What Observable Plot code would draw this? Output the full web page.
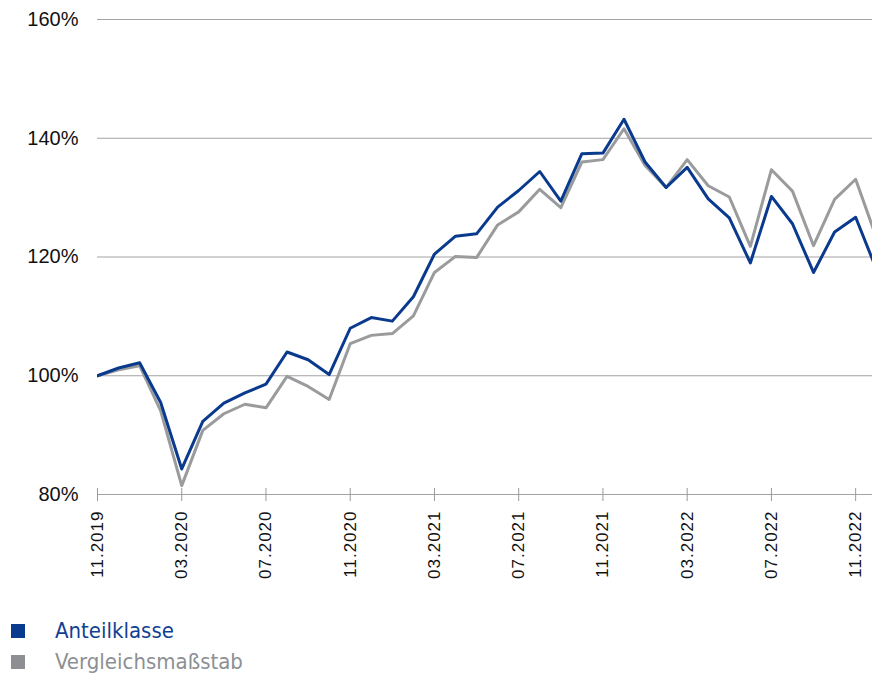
<!DOCTYPE html>
<html>
<head>
<meta charset="utf-8">
<script src="https://cdn.jsdelivr.net/npm/d3@7"></script>
<script src="https://cdn.jsdelivr.net/npm/@observablehq/plot@0.6"></script>
<style>
  html, body { margin: 0; padding: 0; background: #fff; }
  #chart svg { display: block; }
  g[aria-label="x-axis tick label"] text { letter-spacing: 1px; }
  .legend { padding-top: 15px; font-family: "Liberation Sans Narrow", "DejaVu Sans Condensed", "Liberation Sans", sans-serif; font-size: 22px; letter-spacing: 0; }
  .legend .row { display: flex; align-items: center; height: 31px; padding-left: 11px; }
  .legend .sw { width: 14px; height: 14px; margin-right: 30px; }
</style>
</head>
<body>
<div id="chart"></div>
<div class="legend" id="legend"></div>
<script>
const months = ["11.2019","12.2019","01.2020","02.2020","03.2020","04.2020","05.2020","06.2020","07.2020","08.2020","09.2020","10.2020",
  "11.2020","12.2020","01.2021","02.2021","03.2021","04.2021","05.2021","06.2021","07.2021","08.2021","09.2021","10.2021",
  "11.2021","12.2021","01.2022","02.2022","03.2022","04.2022","05.2022","06.2022","07.2022","08.2022","09.2022","10.2022",
  "11.2022","12.2022"];
const anteilklasse = [100.0,101.3,102.2,95.5,84.3,92.3,95.4,97.1,98.6,104.0,102.7,100.2,
  108.0,109.8,109.2,113.3,120.5,123.5,123.9,128.4,131.2,134.4,129.4,137.4,
  137.5,143.2,136.0,131.7,135.1,129.8,126.6,119.0,130.2,125.6,117.4,124.2,
  126.7,117.8];
const vergleich = [100.0,101.0,101.7,94.1,81.5,90.8,93.6,95.2,94.6,99.9,98.2,96.0,
  105.4,106.8,107.1,110.1,117.4,120.1,119.9,125.4,127.6,131.4,128.3,136.0,
  136.4,141.6,135.4,131.7,136.4,132.0,130.1,121.8,134.7,131.1,121.9,129.7,
  133.1,123.1];
const xTickLabels = ["11.2019","03.2020","07.2020","11.2020","03.2021","07.2021","11.2021","03.2022","07.2022","11.2022"];
const yTicks = [80, 100, 120, 140, 160];
const seriesNames = ["Anteilklasse", "Vergleichsmaßstab"];
const seriesColors = ["#0a3a8e", "#9a9b9d"];
const legendTextColors = ["#123f93", "#8c8f93"];

const xTickIdx = xTickLabels.map(l => months.indexOf(l));
const dataA = months.map((m, i) => ({i, v: anteilklasse[i]}));
const dataV = months.map((m, i) => ({i, v: vergleich[i]}));

const plot = Plot.plot({
  width: 872,
  height: 600,
  marginLeft: 97,
  marginRight: 0,
  marginTop: 19,
  marginBottom: 106,
  style: {fontFamily: "'Liberation Sans', Arial, sans-serif", color: "#111", background: "#fff"},
  x: {domain: [0, 36.8], label: null},
  y: {domain: [80, 160], label: null},
  marks: [
    Plot.gridY(yTicks, {stroke: "#a3a3a3", strokeOpacity: 1, strokeWidth: 1}),
    Plot.axisY({ticks: yTicks, tickSize: 0, tickPadding: 19, tickFormat: d => d + "%", fontSize: 20, fill: "#111", label: null}),
    Plot.axisX({ticks: xTickIdx, tickSize: 13, dy: -6, tickFormat: () => "", stroke: "#9a9a9a", label: null}),
    Plot.axisX({ticks: xTickIdx, tickSize: 0, tickPadding: 16, tickRotate: -90, fontSize: 17, fill: "#111",
      tickFormat: i => months[i], label: null}),
    Plot.line(dataV, {x: "i", y: "v", stroke: seriesColors[1], strokeWidth: 3, clip: true}),
    Plot.line(dataA, {x: "i", y: "v", stroke: seriesColors[0], strokeWidth: 3, clip: true})
  ]
});
document.getElementById("chart").appendChild(plot);

const legend = document.getElementById("legend");
seriesNames.forEach((name, k) => {
  const row = document.createElement("div");
  row.className = "row";
  const sw = document.createElement("div");
  sw.className = "sw";
  sw.style.background = k === 0 ? "#0a3a8e" : "#8d8f93";
  const t = document.createElement("span");
  t.textContent = name;
  t.style.color = legendTextColors[k];
  row.appendChild(sw);
  row.appendChild(t);
  legend.appendChild(row);
});
</script>
</body>
</html>
